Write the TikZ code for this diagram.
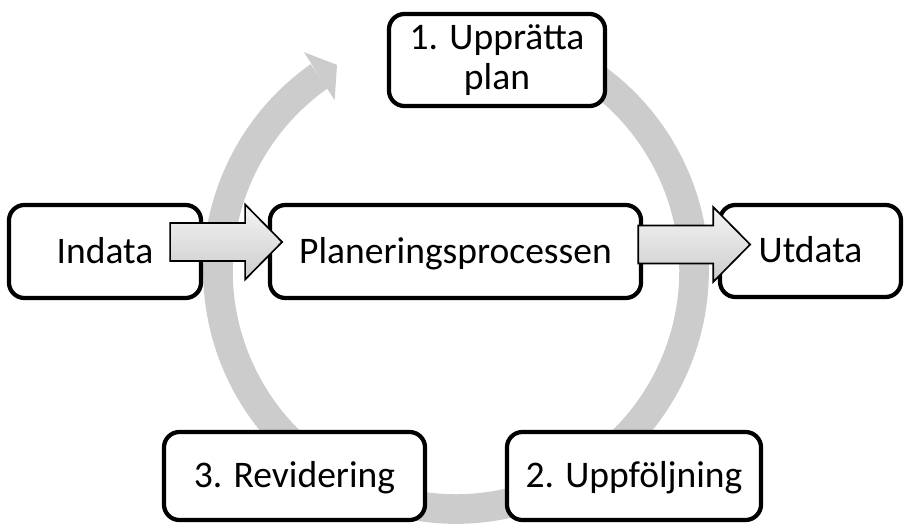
\documentclass[tikz,border=0pt]{standalone}
\usepackage{fontspec}
\setmainfont{Carlito}
\usetikzlibrary{arrows.meta,bending,calc}

\tikzset{
  stage/.style={draw=black, line width=3pt, rounded corners=11pt, fill=white,
    align=center, inner sep=0pt, font=\fontsize{26.7}{29}\selectfont},
  oneline/.style={stage, text height=20pt, text depth=3pt},
  cycle ring/.style={draw=gray!40, line width=0.74cm,
    -{Triangle[width=1.425cm,length=0.525cm,line width=0pt]}},
  block arrow/.style={draw=black, line width=1.2pt, line join=miter,
    top color=gray!8, bottom color=gray!40}
}

\begin{document}
\begin{tikzpicture}[x=0.025cm,y=-0.025cm]
  \useasboundingbox (0,0) rectangle (905,524);
  % the grey cycle behind everything
  \coordinate (hub) at (456,271);
  \draw[cycle ring] (hub) ++(-70:238) arc[start angle=-70, end angle=240, radius=238];
  % input, process and output
  \node[oneline, minimum width=4.8cm, minimum height=2.325cm] (indata) at (105,251.5) {Indata};
  \node[oneline, minimum width=9.275cm, minimum height=2.325cm] (process) at (455.5,251.5) {Planeringsprocessen};
  \node[oneline, minimum width=4.525cm, minimum height=2.3cm] (utdata) at (810.5,251) {Utdata};
  % the three steps
  \node[stage, minimum width=5.4cm, minimum height=2.3cm] (plan) at (497,60) {1. Upprätta\\plan};
  \node[oneline, minimum width=6.35cm, minimum height=2.2cm] (followup) at (634,476) {2. Uppföljning};
  \node[oneline, minimum width=6.525cm, minimum height=2.2cm] (revise) at (294.5,476) {3. Revidering};
  % two block arrows
  \coordinate (inflow) at ($(indata.east)+(-33,-9.5)$);
  \coordinate (outflow) at ($(process.east)+(-5,-7)$);
  \draw[block arrow] (inflow) ++(0,-19) -- ++(75,0) -- ++(0,-18.5) -- ++(37,37.5)
    -- ++(-37,37.5) -- ++(0,-18.5) -- ++(-75,0) -- cycle;
  \draw[block arrow] (outflow) ++(0,-19) -- ++(75,0) -- ++(0,-18.5) -- ++(37,37.5)
    -- ++(-37,37.5) -- ++(0,-18.5) -- ++(-75,0) -- cycle;
\end{tikzpicture}
\end{document}
